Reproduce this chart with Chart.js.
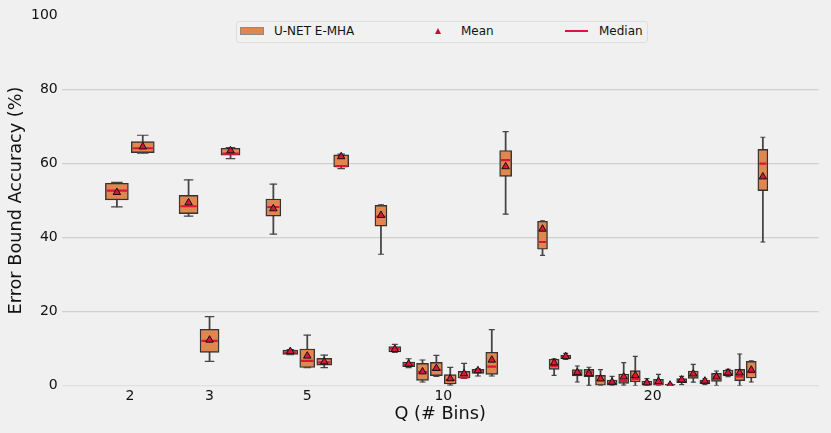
<!DOCTYPE html>
<html>
<head>
<meta charset="utf-8">
<script src="https://cdn.jsdelivr.net/npm/chart.js@4.4.1/dist/chart.umd.min.js"></script>
<style>
  body { margin: 0; background: #f0f0f0; font-family: "DejaVu Sans", sans-serif; }
  #wrap { position: relative; width: 831px; height: 433px; }
  .legend { position: absolute; left: 235.5px; top: 20.5px; width: 410px; height: 20px;
    border: 1px solid #dddddd; border-radius: 3px; background: #f1f1f1; }
  .lg { position: absolute; font-size: 12px; color: #111; line-height: 14px; top: 23.7px; }
  .patch { position: absolute; left: 240px; top: 27px; width: 22px; height: 6px;
    background: #e0874f; border: 1px solid #8a8a8a; }
  .tri { position: absolute; left: 435px; top: 27.5px; width: 0; height: 0;
    border-left: 3.3px solid transparent; border-right: 3.3px solid transparent;
    border-bottom: 6px solid #c8102e; }
  .med { position: absolute; left: 565px; top: 29.7px; width: 23px; height: 2px; background: #dc143c; }
</style>
</head>
<body>
<div id="wrap">
  <canvas id="chart" width="831" height="433"></canvas>
  <div class="legend"></div>
  <div class="patch"></div>
  <div class="lg" style="left:274px">U-NET E-MHA</div>
  <div class="tri"></div>
  <div class="lg" style="left:461px">Mean</div>
  <div class="med"></div>
  <div class="lg" style="left:599px">Median</div>
</div>
<script>
// Q values; group Q holds Q boxes (one per bin)
const binCounts = [2, 3, 5, 10, 20]

// box statistics, listed group after group
const whiskerLow = [
  48.3, 62.8,
  45.8, 6.6, 61.3,
  40.9, 8.4, 4.9, 4.9, 58.6,
  35.5, 9.0, 4.9, 1.03, 2.55, 0.2, 2.0, 2.65, 2.65, 46.3,
  35.2, 2.83, 7.1, 1.03, 0.1, 0, 0, 0.2, 0, 0, 0, 0, 0.3, 1.0, 0.3, 0, 2.5, 0, 1.03, 38.8
]
const q1 = [
  50.15, 62.9,
  46.45, 9.04, 62.2,
  45.8, 8.5, 4.95, 5.6, 59.05,
  43.1, 9.12, 5.17, 1.48, 2.73, 0.49, 2.1, 3.37, 3.1, 56.5,
  36.85, 4.45, 7.3, 2.65, 2.46, 0, 0, 0.67, 1.03, 0, 0, 0, 0.85, 2.0, 0.5, 1.2, 2.65, 1.38, 2.1, 52.66
]
const median = [
  52.66, 64.1,
  48.45, 12.1, 62.65,
  48.25, 9.04, 6.7, 6.3, 59.25,
  45.65, 9.93, 5.8, 3.72, 4.26, 1.57, 2.3, 3.9, 5.17, 60.9,
  38.8, 5.3, 7.8, 3.55, 3.7, 1.5, 0.8, 1.3, 1.8, 0.5, 0.6, 0.1, 1.4, 3.0, 1.2, 2.5, 3.3, 2.5, 3.7, 59.95
]
const q3 = [
  54.65, 65.9,
  51.4, 15.25, 64.1,
  50.4, 9.66, 9.93, 7.4, 62.3,
  48.7, 10.55, 6.42, 6.06, 6.33, 3.0, 3.9, 4.45, 9.04, 63.5,
  44.4, 7.15, 8.3, 4.35, 4.45, 2.83, 1.57, 3.18, 4.08, 1.3, 1.75, 0.4, 1.93, 4.0, 1.57, 3.37, 4.26, 4.45, 6.6, 63.8
]
const whiskerHigh = [
  54.9, 67.6,
  55.55, 18.65, 64.3,
  54.4, 9.8, 13.7, 8.3, 62.5,
  48.8, 11.2, 7.3, 6.96, 8.2, 4.99, 6.06, 4.6, 15.15, 68.6,
  44.5, 7.3, 8.77, 5.34, 5.0, 4.35, 2.55, 6.24, 7.96, 1.93, 3.1, 0.5, 2.55, 5.8, 1.9, 4.0, 4.45, 8.58, 6.7, 67.07
]
const mean = [
  52.2, 64.5,
  49.4, 12.36, 63.45,
  47.8, 9.3, 8.05, 6.5, 61.85,
  46.0, 9.85, 5.9, 3.8, 4.72, 1.93, 3.3, 4.1, 6.96, 59.15,
  42.3, 6.2, 7.9, 3.6, 3.3, 1.9, 1.0, 2.4, 2.83, 0.8, 1.2, 0.2, 1.6, 3.2, 1.3, 2.4, 3.5, 3.5, 4.26, 56.4
]

// layout of the groups on the x axis (axis units 0..100) and box sizes in px
const groupCenter = [9.0, 19.53, 32.44, 50.41, 78.07]
const groupSpacing = [3.42, 2.77, 2.24, 1.83, 1.532]
const boxWidth = [23, 19, 15, 12, 10]

const BOX_FILL = '#e0874f'
const BOX_EDGE = '#333333'
const WHISKER = '#444444'
const MEDIAN = '#dc143c'

function getBoxes() {
  const boxes = []
  let k = 0
  binCounts.forEach((q, g) => {
    for (let j = 0; j < q; j++) {
      const x = groupCenter[g] + (j - (q - 1) / 2) * groupSpacing[g]
      boxes.push({ g, x, k })
      k++
    }
  })
  return boxes
}

const boxes = getBoxes()

function boxDataset(g) {
  return {
    type: 'bar',
    label: 'U-NET E-MHA',
    data: boxes.filter(b => b.g === g).map(b => ({ x: b.x, y: [q1[b.k], q3[b.k]] })),
    backgroundColor: BOX_FILL,
    borderColor: BOX_EDGE,
    borderWidth: 1.4,
    borderSkipped: false,
    barThickness: boxWidth[g],
    grouped: false,
    order: 3
  }
}

const datasets = [
  {
    type: 'scatter',
    label: 'Mean',
    data: boxes.map(b => ({ x: b.x, y: mean[b.k], g: b.g })),
    pointStyle: 'triangle',
    pointRadius: 4.3,
    backgroundColor: MEDIAN,
    borderColor: '#111',
    borderWidth: 1,
    order: 0
  },
  {
    type: 'scatter',
    label: 'Median',
    data: boxes.map(b => ({ x: b.x, y: median[b.k], g: b.g })),
    pointStyle: 'line',
    pointRadius: ctx => (boxWidth[ctx.raw.g] - 2.8) / 2,
    borderColor: MEDIAN,
    borderWidth: 2.2,
    order: 1
  },
  {
    type: 'scatter',
    label: 'caps',
    data: boxes.flatMap(b => [
      { x: b.x, y: whiskerLow[b.k], g: b.g },
      { x: b.x, y: whiskerHigh[b.k], g: b.g }
    ]),
    pointStyle: 'line',
    pointRadius: ctx => boxWidth[ctx.raw.g] / 4,
    borderColor: WHISKER,
    borderWidth: 1.2,
    order: 2
  },
  ...binCounts.map((q, g) => boxDataset(g)),
  {
    type: 'bar',
    label: 'whiskers',
    data: boxes.map(b => ({ x: b.x, y: [whiskerLow[b.k], whiskerHigh[b.k]] })),
    backgroundColor: WHISKER,
    borderWidth: 0,
    barThickness: 1.1,
    grouped: false,
    order: 4
  }
]

const FONT = '"DejaVu Sans", sans-serif'

new Chart(document.getElementById('chart').getContext('2d'), {
  type: 'scatter',
  data: { datasets },
  options: {
    responsive: false,
    animation: false,
    layout: { padding: { left: 0, top: 15.2, right: 10, bottom: 0 } },
    plugins: { legend: { display: false }, tooltip: { enabled: false } },
    scales: {
      x: {
        type: 'linear',
        min: 0,
        max: 100,
        offset: false,
        grid: { display: false, offset: false, drawTicks: false },
        border: { display: false },
        afterBuildTicks: scale => { scale.ticks = groupCenter.map(v => ({ value: v })) },
        afterFit: scale => { scale.height = 47.2 },
        ticks: {
          callback: (value, index) => binCounts[index],
          font: { family: FONT, size: 14 },
          color: '#111',
          padding: 2,
          maxRotation: 0,
          autoSkip: false
        },
        title: {
          display: true,
          text: 'Q (# Bins)',
          font: { family: FONT, size: 17.7 },
          color: '#111',
          padding: { top: 0, bottom: 7.8 }
        }
      },
      y: {
        min: 0,
        max: 100,
        grid: {
          drawTicks: false,
          lineWidth: 1.2,
          color: ctx => ctx.tick.value === 100 ? 'rgba(0,0,0,0)' : (ctx.tick.value === 0 ? 'rgba(205,205,205,0.45)' : '#d0d0d0')
        },
        border: { display: false },
        afterFit: scale => { scale.width = 61.7 },
        ticks: {
          stepSize: 20,
          font: { family: FONT, size: 14 },
          color: '#111',
          padding: 4
        },
        title: {
          display: true,
          text: 'Error Bound Accuracy (%)',
          font: { family: FONT, size: 17.7 },
          color: '#111',
          padding: { top: 6.1, bottom: 0 }
        }
      }
    }
  }
})
</script>
</body>
</html>
